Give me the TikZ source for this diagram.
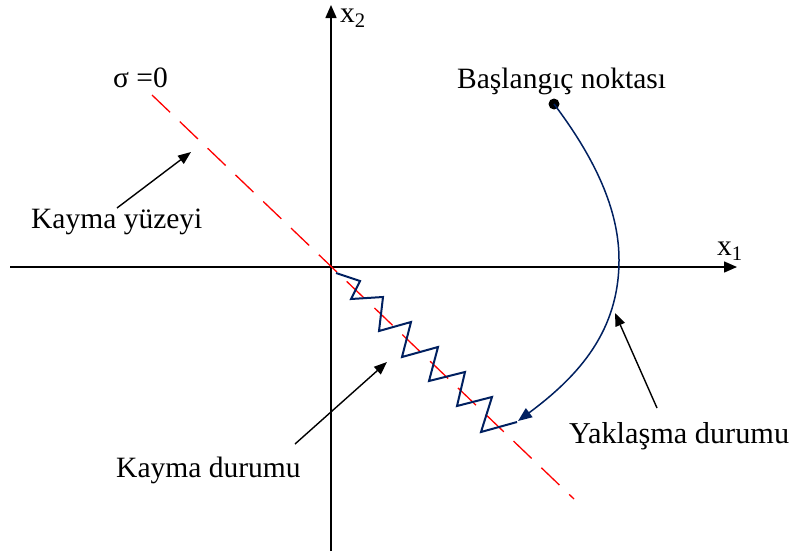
\documentclass[tikz,border=0pt]{standalone}
\usepackage{fontspec}
\setmainfont{Liberation Serif}
\usetikzlibrary{arrows.meta}
\definecolor{navy}{RGB}{0,32,96}
\definecolor{sigred}{RGB}{255,0,0}
\begin{document}
\begin{tikzpicture}[x=1pt,y=-1pt,
  lbl/.style={font=\fontsize{29.5}{32}\selectfont, inner sep=0pt, anchor=base west},
  axisline/.style={line width=1.5pt,-{Triangle[length=13pt,width=11pt]}},
  pointer/.style={line width=1.4pt,-{Triangle[length=13pt,width=10pt]}},
  slideline/.style={sigred, line width=1.3pt, dash pattern=on 25pt off 13.5pt},
  zigzag/.style={navy, line width=2pt, line join=miter},
  approach/.style={navy, line width=1.5pt,-{Triangle[length=14pt,width=11pt]}},
  startdot/.style={circle, fill=black, inner sep=0pt, minimum size=11pt}
]
\useasboundingbox (0,0) rectangle (791,554);
\fill[white] (0,0) rectangle (791,554);

% axes
\coordinate (xl) at (10,267);
\coordinate (xr) at (737,267);
\coordinate (yb) at (331,551);
\coordinate (yt) at (331,5);
\draw[axisline] (xl) -- (xr);
\draw[axisline] (yb) -- (yt);

% sliding surface
\coordinate (s1) at (152,95);
\coordinate (s2) at (574,499);
\draw[slideline] (s1) -- (s2);

% sliding motion (zigzag)
\draw[zigzag] (336,273) -- (360,281) -- (351,299) -- (383,297) -- (379,331)
  -- (411,322) -- (402,357) -- (438,347) -- (429,381) -- (465,372)
  -- (457,406) -- (492,397) -- (481,432) -- (517,422);

% approach trajectory
\node[startdot] (start) at (554,104) {};
\coordinate (reach) at (518,421);
\draw[approach] (start.center) .. controls (600,165) and (619,215) .. (619,260)
  .. controls (619,330) and (580,375) .. (reach);

% labels
\node[lbl] (sigma) at (113,87) {σ =0};
\node[lbl] (bas) at (457,88) {Başlangıç noktası};
\node[lbl] (ky) at (31,228) {Kayma yüzeyi};
\node[lbl] (kd) at (116,477) {Kayma durumu};
\node[lbl, font=\fontsize{30.3}{32}\selectfont] (yd) at (569,443) {Yaklaşma durumu};
\node[lbl] (x2) at (340,22) {x\textsubscript{2}};
\node[lbl] (x1) at (717,255) {x\textsubscript{1}};

% pointers
\coordinate (a1s) at (117,208); \coordinate (a1e) at (191,152);
\coordinate (a2s) at (295,444); \coordinate (a2e) at (387,362);
\coordinate (a3s) at (657,408); \coordinate (a3e) at (615,313);
\draw[pointer] (a1s) -- (a1e);
\draw[pointer] (a2s) -- (a2e);
\draw[pointer] (a3s) -- (a3e);
\end{tikzpicture}
\end{document}
